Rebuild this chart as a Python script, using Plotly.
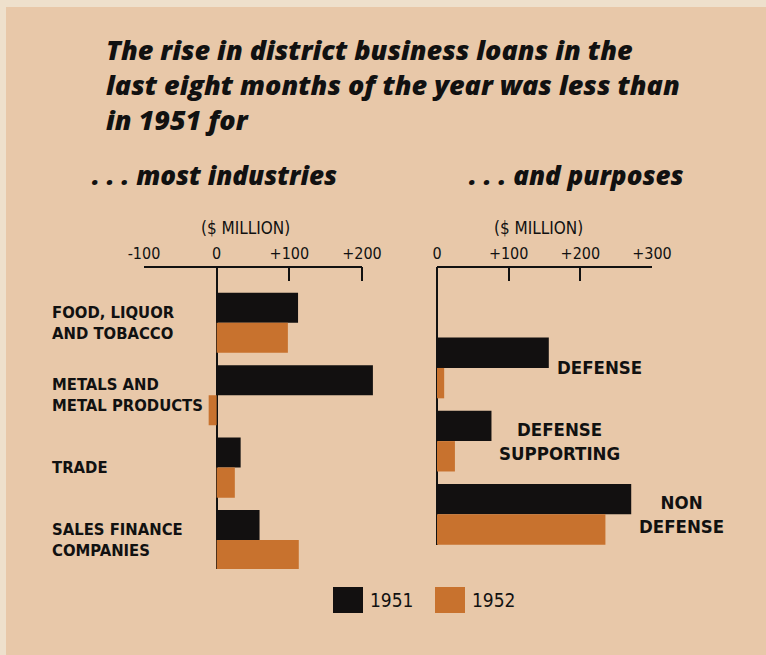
import plotly.graph_objects as go

W, H = 766, 655

# ---------------- data ----------------
industries = ["FOOD, LIQUOR<br>AND TOBACCO", "METALS AND<br>METAL PRODUCTS",
              "TRADE", "SALES FINANCE<br>COMPANIES"]
ind_1951 = [112, 215, 33, 59]
ind_1952 = [98, -11, 25, 113]

purposes = ["DEFENSE", "DEFENSE<br>SUPPORTING", "NON<br>DEFENSE"]
pur_1951 = [156, 76, 271]
pur_1952 = [10, 25, 235]

left_ticks = [-100, 0, 100, 200]
left_ticktext = ["-100", "0", "+100", "+200"]
right_ticks = [0, 100, 200, 300]
right_ticktext = ["0", "+100", "+200", "+300"]

series_names = ["1951", "1952"]
series_colors = ["#121010", "#C8722E"]

title_text = ("The rise in district business loans in the<br>"
              "last eight months of the year was less than<br>"
              "in 1951 for")
sub_left = ". . . most industries"
sub_right = ". . . and purposes"
unit_text = "($ MILLION)"

# ---------------- styling ----------------
BG = "#E8C8A9"
BORDER = "#EEE0CC"
INK = "#111"
COND = "DejaVu Sans Condensed, sans-serif"
TITLEF = "Open Sans, sans-serif"

LEFT_PX_PER_UNIT = 218 / 300.0
RIGHT_PX_PER_UNIT = 215 / 300.0


def px(x):
    return x / W


def py(y):
    return 1 - y / H


fig = go.Figure()

fig.add_trace(go.Bar(y=industries, x=ind_1951, orientation="h", name=series_names[0],
                     marker=dict(color=series_colors[0], line=dict(width=0)),
                     xaxis="x", yaxis="y"))
fig.add_trace(go.Bar(y=industries, x=ind_1952, orientation="h", name=series_names[1],
                     marker=dict(color=series_colors[1], line=dict(width=0)),
                     xaxis="x", yaxis="y"))
fig.add_trace(go.Bar(y=purposes, x=pur_1951, orientation="h", name=series_names[0],
                     marker=dict(color=series_colors[0], line=dict(width=0)),
                     xaxis="x2", yaxis="y2", showlegend=False))
fig.add_trace(go.Bar(y=purposes, x=pur_1952, orientation="h", name=series_names[1],
                     marker=dict(color=series_colors[1], line=dict(width=0)),
                     xaxis="x2", yaxis="y2", showlegend=False))

axis_common = dict(side="top", showline=False,
                   ticks="inside", ticklen=14, tickwidth=2, tickcolor=INK,
                   showgrid=False, zeroline=True, zerolinecolor=INK, zerolinewidth=2,
                   automargin=False, ticklabelstandoff=4,
                   tickfont=dict(family=COND, size=16, color=INK), fixedrange=True)

left_range = [-100, 220]
right_range = [0, 300]
left_x0 = 144
right_x0 = 437

fig.update_layout(
    width=W, height=H, autosize=False,
    margin=dict(l=0, r=0, t=0, b=0, pad=0, autoexpand=False),
    paper_bgcolor=BG, plot_bgcolor="rgba(0,0,0,0)",
    barmode="group", bargap=0.17, bargroupgap=0,
    showlegend=False, hovermode=False,
    xaxis=dict(domain=[px(left_x0),
                       px(left_x0 + (left_range[1] - left_range[0]) * LEFT_PX_PER_UNIT)],
               range=left_range, anchor="y",
               tickvals=left_ticks, ticktext=left_ticktext, **axis_common),
    yaxis=dict(domain=[py(569), py(267)], range=[3.4, -0.77], type="category",
               showticklabels=False, showgrid=False, showline=False, ticks="",
               zeroline=False, anchor="x", automargin=False, fixedrange=True),
    xaxis2=dict(domain=[px(right_x0),
                        px(right_x0 + (right_range[1] - right_range[0]) * RIGHT_PX_PER_UNIT)],
                range=right_range, anchor="y2",
                tickvals=right_ticks, ticktext=right_ticktext, **axis_common),
    yaxis2=dict(domain=[py(545), py(267)], range=[2.42, -1.38], type="category",
                showticklabels=False, showgrid=False, showline=False, ticks="",
                zeroline=False, anchor="x2", automargin=False, fixedrange=True),
)

shapes = [
    dict(type="rect", xref="paper", yref="paper", x0=0, x1=1, y0=py(7), y1=1,
         fillcolor=BORDER, line=dict(width=0), layer="below"),
    dict(type="rect", xref="paper", yref="paper", x0=0, x1=px(6), y0=0, y1=1,
         fillcolor=BORDER, line=dict(width=0), layer="below"),
    # axis brackets spanning first to last tick
    dict(type="line", xref="x", yref="y domain", x0=left_ticks[0], x1=left_ticks[-1],
         y0=1, y1=1, line=dict(color=INK, width=2)),
    dict(type="line", xref="x2", yref="y2 domain", x0=right_ticks[0], x1=right_ticks[-1],
         y0=1, y1=1, line=dict(color=INK, width=2)),
]

title_font = dict(family=TITLEF, size=27, color=INK, weight=800, style="italic")
sub_font = dict(family=TITLEF, size=26, color=INK, weight=800, style="italic")
annotations = [
    dict(text=title_text, xref="paper", yref="paper", x=px(104), y=py(84),
         xanchor="left", yanchor="middle", align="left", showarrow=False, font=title_font),
    dict(text=sub_left, xref="paper", yref="paper", x=px(90), y=py(175),
         xanchor="left", yanchor="middle", showarrow=False, font=sub_font),
    dict(text=sub_right, xref="paper", yref="paper", x=px(467), y=py(175),
         xanchor="left", yanchor="middle", showarrow=False, font=sub_font),
    dict(text=unit_text, xref="paper", yref="paper", x=px(245), y=py(228),
         xanchor="center", yanchor="middle", showarrow=False,
         font=dict(family=COND, size=17, color=INK)),
    dict(text=unit_text, xref="paper", yref="paper", x=px(538), y=py(228),
         xanchor="center", yanchor="middle", showarrow=False,
         font=dict(family=COND, size=17, color=INK)),
]

for cat in industries:
    annotations.append(dict(text=cat, xref="paper", yref="y", x=px(50), y=cat,
                            xanchor="left", yanchor="middle", align="left",
                            showarrow=False,
                            font=dict(family=COND, size=16.5, color=INK, weight="bold")))

for cat, a, b in zip(purposes, pur_1951, pur_1952):
    annotations.append(dict(text=cat, xref="x2", yref="y2", x=max(a, b), y=cat,
                            xanchor="left", yanchor="middle", align="center",
                            xshift=6, showarrow=False,
                            font=dict(family=COND, size=18.5, color=INK, weight="bold")))

# legend drawn manually (large swatches)
leg_x = [333, 435]
for name, color, lx in zip(series_names, series_colors, leg_x):
    shapes.append(dict(type="rect", xref="paper", yref="paper",
                       x0=px(lx), x1=px(lx + 30), y0=py(613), y1=py(587),
                       fillcolor=color, line=dict(width=0)))
    annotations.append(dict(text=name, xref="paper", yref="paper", x=px(lx + 35), y=py(600),
                            xanchor="left", yanchor="middle", showarrow=False,
                            font=dict(family=COND, size=19, color=INK)))

fig.update_layout(shapes=shapes, annotations=annotations)

fig.write_html("out.html", config={"displayModeBar": False, "staticPlot": True},
               post_script="document.body.style.margin='0';document.body.style.overflow='hidden';")
